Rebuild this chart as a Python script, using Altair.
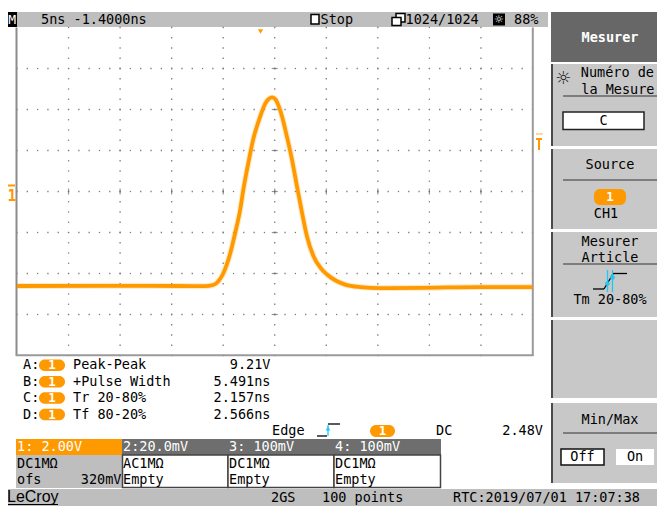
import altair as alt
import numpy as np
import pandas as pd

# ---------------- data ----------------
time_ns = [-25.0, -16.9, -9.2, -6.75, -5.97, -5.49, -5.00, -4.32, -3.83, -3.35, -3.06,
           -2.57, -2.09, -1.41, -0.92, -0.63, -0.27, 0.05, 0.24, 0.70, 1.18, 1.67, 2.16,
           2.64, 3.13, 3.77, 4.42, 5.07, 6.04, 6.84, 8.30, 10.24, 14.13, 19.95, 25.0]
volts = [-4.61, -4.60, -4.61, -4.62, -4.56, -4.39, -4.00, -3.02, -2.00, -0.88, 0.05,
         1.37, 2.54, 3.66, 4.29, 4.49, 4.59, 4.51, 4.34, 3.67, 2.68, 1.56, 0.24,
         -1.02, -2.20, -3.17, -3.71, -4.05, -4.38, -4.54, -4.66, -4.71, -4.70, -4.66, -4.66]

top_texts = ["5ns -1.4000ns", "Stop", "1024/1024", "88%"]
meas_labels = ["A:", "B:", "C:", "D:"]
meas_names = ["Peak-Peak", "+Pulse Width", "Tr 20-80%", "Tf 80-20%"]
meas_values = ["9.21V", "5.491ns", "2.157ns", "2.566ns"]
trig_texts = ["Edge", "DC", "2.48V"]
ch_headers = ["1: 2.00V", "2:20.0mV", "3: 100mV", "4: 100mV"]
ch_coupling = ["DC1MΩ", "AC1MΩ", "DC1MΩ", "DC1MΩ"]
ch_second = ["ofs", "Empty", "Empty", "Empty"]
ch1_offset = "320mV"
bottom_texts = ["LeCroy", "2GS", "100 points", "RTC:2019/07/01 17:07:38"]
menu_texts = ["Mesurer", "Numéro de", "la Mesure", "C", "Source", "1", "CH1",
              "Mesurer", "Article", "Tm 20-80%", "Min/Max", "Off", "On"]

# ---------------- layout helpers ----------------
W, H = 649, 498
OX, OY = 8, 8
MONO = "DejaVu Sans Mono"
ORANGE = "#FF9900"
CYAN = "#1EC8F5"
PANEL = "#C8C8C8"
DARK = "#676767"
BAR = "#BEBEBE"

PX = alt.Scale(domain=[OX, OX + W], range=[0, W], nice=False, zero=False)
PY = alt.Scale(domain=[OY, OY + H], range=[0, H], nice=False, zero=False)
TX = alt.Scale(domain=[-25, 25], range=[17 - OX, 532.5 - OX], nice=False, zero=False)
TY = alt.Scale(domain=[-8, 8], range=[355.5 - OY, 27.5 - OY], nice=False, zero=False)


def rects(rows, sw=0, corner=0):
    df = pd.DataFrame(rows, columns=["x1", "y1", "x2", "y2", "fill", "stroke"])
    return alt.Chart(df).mark_rect(strokeWidth=sw, cornerRadius=corner).encode(
        x=alt.X("x1:Q", scale=PX, axis=None), x2="x2:Q",
        y=alt.Y("y1:Q", scale=PY, axis=None), y2="y2:Q",
        fill=alt.Fill("fill:N", scale=None),
        stroke=alt.Stroke("stroke:N", scale=None))


def rules(rows, sw=1):
    df = pd.DataFrame(rows, columns=["x1", "y1", "x2", "y2", "color"])
    return alt.Chart(df).mark_rule(strokeWidth=sw).encode(
        x=alt.X("x1:Q", scale=PX, axis=None), x2="x2:Q",
        y=alt.Y("y1:Q", scale=PY, axis=None), y2="y2:Q",
        color=alt.Color("color:N", scale=None))


def texts(rows, size=13.5, weight="normal", align="left", font=MONO):
    df = pd.DataFrame(rows, columns=["x", "y", "label", "color"])
    return alt.Chart(df).mark_text(align=align, baseline="middle", fontSize=size,
                                   fontWeight=weight, font=font).encode(
        x=alt.X("x:Q", scale=PX, axis=None), y=alt.Y("y:Q", scale=PY, axis=None),
        text="label:N", color=alt.Color("color:N", scale=None))


layers = []

# ---------------- backgrounds ----------------
panels = [
    (6, 12, 548, 27, BAR, BAR),            # top status bar
    (551, 12, 665, 62, DARK, DARK),        # Mesurer header
    (551, 64, 665, 146, PANEL, PANEL),
    (551, 149, 665, 229, PANEL, PANEL),
    (551, 232, 665, 317, PANEL, PANEL),
    (551, 320, 665, 398, PANEL, PANEL),
    (551, 403, 665, 483, PANEL, PANEL),
    (0, 489, 665, 506, BAR, BAR),          # bottom bar
    (7, 12, 17, 27, "#000000", "#000000"),  # M box
    (16, 439, 122, 455, ORANGE, ORANGE),
    (122, 439, 441, 455, "#6E6E6E", "#6E6E6E"),
    (16, 455, 122, 488, BAR, BAR),
    (493, 13.5, 505, 25.5, "#000000", "#000000"),
]
layers.append(rects(panels))
# panel left dark edges
layers.append(rules([(552, 64, 552, 146, "#4A4A4A"), (552, 149, 552, 229, "#4A4A4A"),
                     (552, 232, 552, 317, "#4A4A4A"), (552, 320, 552, 398, "#4A4A4A"),
                     (552, 403, 552, 483, "#4A4A4A")], sw=2))
# white boxes with borders
layers.append(rects([(122.5, 455, 228, 487.5, "#FFFFFF", "#444444"),
                     (228, 455, 334, 487.5, "#FFFFFF", "#444444"),
                     (334, 455, 440.5, 487.5, "#FFFFFF", "#444444"),
                     (563, 112, 644, 129.5, "#FFFFFF", "#222222"),
                     (561, 449, 604, 465, "#FFFFFF", "#111111"),
                     (311, 14.5, 319, 24, "#FFFFFF", "#000000"),
                     (396, 13.5, 405, 22, "#FFFFFF", "#000000"),
                     (392, 17.5, 401, 25.5, "#FFFFFF", "#000000")], sw=1.5))
layers.append(rects([(616, 449, 654, 465, "#FFFFFF", "#FFFFFF")]))

# ---------------- scope grid ----------------
cols = np.arange(-20, 21, 5)
rows_v = np.arange(-6, 7, 2)
dots = [(t, v) for t in cols for v in np.arange(-8, 8.01, 0.5)]
dots += [(t, v) for v in rows_v for t in np.arange(-25, 25.01, 1)]
dot_df = pd.DataFrame(dots, columns=["t", "v"])
layers.append(alt.Chart(dot_df).mark_square(size=1.6, color="#7A7A7A", opacity=1).encode(
    x=alt.X("t:Q", scale=TX, axis=None), y=alt.Y("v:Q", scale=TY, axis=None)))
vt = pd.DataFrame({"t": cols, "v": 0.0})
layers.append(alt.Chart(vt).mark_tick(orient="vertical", size=6, thickness=1.2, color="#6A6A6A").encode(
    x=alt.X("t:Q", scale=TX, axis=None), y=alt.Y("v:Q", scale=TY, axis=None)))
ht = pd.DataFrame({"t": 0.0, "v": rows_v})
layers.append(alt.Chart(ht).mark_tick(orient="horizontal", size=6, thickness=1.2, color="#6A6A6A").encode(
    x=alt.X("t:Q", scale=TX, axis=None), y=alt.Y("v:Q", scale=TY, axis=None)))
# screen border
layers.append(rules([(16.5, 27.5, 16.5, 356, "#8C8C8C"), (532.8, 27.5, 532.8, 356, "#9A9A9A"),
                     (16, 355.3, 533.5, 355.3, "#9A9A9A")], sw=2))

# ---------------- waveform ----------------
wave_df = pd.DataFrame({"t": time_ns, "v": volts})
wx = alt.X("t:Q", scale=TX, axis=None)
wy = alt.Y("v:Q", scale=TY, axis=None)
layers.append(alt.Chart(wave_df).mark_line(color=ORANGE, strokeWidth=6, opacity=0.22,
                                           interpolate="monotone").encode(x=wx, y=wy))
layers.append(alt.Chart(wave_df).mark_line(color=ORANGE, strokeWidth=3.8,
                                           interpolate="monotone").encode(x=wx, y=wy))

# ---------------- markers ----------------
layers.append(alt.Chart(pd.DataFrame({"x": [260.5], "y": [31.5]})).mark_point(
    shape="triangle-down", size=28, filled=True, color=ORANGE, opacity=1).encode(
    x=alt.X("x:Q", scale=PX, axis=None), y=alt.Y("y:Q", scale=PY, axis=None)))
layers.append(rules([(8, 185.5, 15, 185.5, ORANGE), (536, 139, 542, 139, ORANGE),
                     (539, 139, 539, 150, ORANGE)], sw=2))
layers.append(rules([(536, 134, 543, 134, "#FFC880")], sw=1.5))
layers.append(texts([(12, 195.5, "1", ORANGE)], size=15, weight="bold", align="center"))

# ---------------- icons ----------------
layers.append(rules([(317, 436, 327, 436, "#000000"), (328, 424, 340, 424, "#000000"),
                     (593, 289, 604, 289, "#000000"), (604, 289, 613, 274, "#000000"),
                     (613, 273.5, 627, 273.5, "#000000")], sw=1.3))
layers.append(rules([(328, 425, 328, 436, CYAN), (607.5, 270, 607.5, 292, CYAN),
                     (612.5, 270, 612.5, 292, CYAN)], sw=1.3))
layers.append(alt.Chart(pd.DataFrame({"x": [328, 607.5, 612.5], "y": [428.5, 283.5, 277.5],
                                      "s": ["triangle-up", "circle", "circle"]})).mark_point(
    size=22, filled=True, color=CYAN, opacity=1).encode(
    x=alt.X("x:Q", scale=PX, axis=None), y=alt.Y("y:Q", scale=PY, axis=None),
    shape=alt.Shape("s:N", scale=None)))
# menu separator lines
layers.append(rules([(563, 96, 658, 96, "#333333"), (563, 180, 658, 180, "#333333"),
                     (563, 264, 658, 264, "#333333"), (563, 433, 658, 433, "#333333"),
                     (6, 504.5, 58, 504.5, "#000000")], sw=1))

# pills
pills = [(39, 359.5 + 16.4 * i, 65, 371 + 16.4 * i, ORANGE, ORANGE) for i in range(4)]
pills += [(370, 425, 395, 437, ORANGE, ORANGE), (594, 189, 626, 205, ORANGE, ORANGE)]
layers.append(rects(pills, corner=6))
pill_txt = [(52, 365.3 + 16.4 * i, "1", "#FFFFFF") for i in range(4)]
pill_txt += [(382.5, 431, "1", "#FFFFFF"), (610, 197, menu_texts[5], "#FFFFFF")]
layers.append(texts(pill_txt, size=12.5, weight="bold", align="center"))

# ---------------- texts ----------------
black = "#000000"
white = "#FFFFFF"
left = [(41, 19.5, top_texts[0], black), (320.5, 19.5, top_texts[1], black),
        (405.5, 19.5, top_texts[2], black), (514, 19.5, top_texts[3], black)]
for i in range(4):
    y = 365.3 + 16.4 * i
    left.append((23, y, meas_labels[i], black))
    left.append((73, y, meas_names[i], black))
left += [(272, 431, trig_texts[0], black), (436, 431, trig_texts[1], black)]
hx = [17, 123, 229, 335]
for i in range(4):
    left.append((hx[i], 447, ch_headers[i], white))
    left.append((hx[i], 463.5, ch_coupling[i], black))
    left.append((hx[i], 480, ch_second[i], black))
left += [(271, 497.5, bottom_texts[1], black), (322, 497.5, bottom_texts[2], black),
         (453, 497.5, bottom_texts[3], black)]
layers.append(texts(left))

right = [(270.5, 365.3 + 16.4 * i, meas_values[i], black) for i in range(4)]
right += [(543, 431, trig_texts[2], black), (121.5, 480, ch1_offset, black),
          (654, 73, menu_texts[1], black), (654.5, 89.5, menu_texts[2], black)]
layers.append(texts(right, align="right"))

center = [(603.5, 121, menu_texts[3], black), (610, 165, menu_texts[4], black),
          (606, 214, menu_texts[6], black), (610, 241.5, menu_texts[7], black),
          (610, 257.5, menu_texts[8], black), (610, 300, menu_texts[9], black),
          (610, 420, menu_texts[10], black), (582.5, 457, menu_texts[11], black),
          (635, 457, menu_texts[12], black)]
layers.append(texts(center, align="center"))
layers.append(texts([(610, 38, menu_texts[0], white)], weight="bold", align="center"))
layers.append(texts([(12.2, 20, "M", white)], size=13, align="center"))
layers.append(texts([(499, 19.5, "☼", white)], size=11, align="center", font="DejaVu Sans"))
layers.append(texts([(563, 79, "☼", "#222222")], size=18, align="center", font="DejaVu Sans"))
layers.append(texts([(7, 497, bottom_texts[0], black)], size=16, font="Liberation Sans"))

chart = alt.layer(*layers).resolve_scale(x="independent", y="independent").properties(
    width=W, height=H, padding=0, background="#FFFFFF",
    autosize=alt.AutoSizeParams(type="none")
).configure_view(strokeWidth=0)

chart.save("out.html", embed_options={"renderer": "svg", "actions": False})
